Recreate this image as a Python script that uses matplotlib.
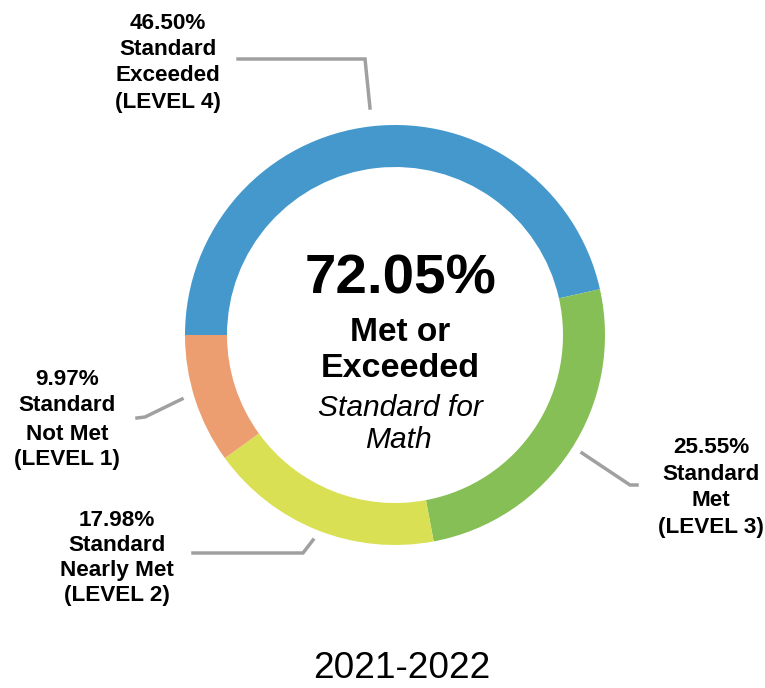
import matplotlib.pyplot as plt

plt.rcParams['font.family'] = ['Liberation Sans', 'DejaVu Sans']

# slices, clockwise from 9 o'clock
levels = ['Standard Exceeded (LEVEL 4)', 'Standard Met (LEVEL 3)',
          'Standard Nearly Met (LEVEL 2)', 'Standard Not Met (LEVEL 1)']
values = [46.50, 25.55, 17.98, 9.97]
colors = ['#4498CC', '#86BF55', '#D9E054', '#EC9E70']

label_lines = [
    ['46.50%', 'Standard', 'Exceeded', '(LEVEL 4)'],
    ['25.55%', 'Standard', 'Met', '(LEVEL 3)'],
    ['17.98%', 'Standard', 'Nearly Met', '(LEVEL 2)'],
    ['9.97%', 'Standard', 'Not Met', '(LEVEL 1)'],
]
met_total = '72.05%'
year = '2021-2022'

W, H = 765, 688


def Y(py):
    return H - py


fig = plt.figure(figsize=(W / 100, H / 100), dpi=100)
ax = fig.add_axes([0, 0, 1, 1])

ax.pie(values, colors=colors, startangle=180, counterclock=False,
       center=(395, Y(335)), radius=210,
       wedgeprops=dict(width=42, edgecolor='none'))
ax.set_xlim(0, W)
ax.set_ylim(0, H)
ax.set_aspect('equal')
ax.axis('off')

# leader lines
leaders = [
    [(238, 59), (365, 59), (370, 108)],
    [(582, 453), (630, 485), (637, 485)],
    [(193, 553), (303, 553), (313, 540)],
    [(137, 418), (145, 417), (182, 399)],
]
for pts in leaders:
    ax.plot([p[0] for p in pts], [Y(p[1]) for p in pts],
            color='#A0A0A0', lw=2.5, solid_joinstyle='miter')

# label positions: x centre, y of each line (cap centre)
label_pos = [
    (168, [21, 47, 73, 100]),
    (711, [445, 472, 498, 525]),
    (117, [518, 543, 568, 593]),
    (67, [377, 403, 432, 457]),
]


def put(x, yc, s, px, **kw):
    # place text so that its capital letters are centred on yc
    ax.text(x, Y(yc + 0.358 * px), s, fontsize=px * 0.72,
            ha='center', va='baseline', **kw)


for (x, ys), lines in zip(label_pos, label_lines):
    for yc, s in zip(ys, lines):
        put(x, yc, s, 22.5, fontweight='bold')

# centre text
put(401, 273, met_total, 56.5, fontweight='bold')
put(400, 329, 'Met or', 33.5, fontweight='bold')
put(400, 365, 'Exceeded', 34, fontweight='bold')
put(400, 405, 'Standard for', 30, fontstyle='italic')
put(398, 437, 'Math', 30, fontstyle='italic')

put(402, 665, year, 37)

fig.savefig('out.png', dpi=100)
